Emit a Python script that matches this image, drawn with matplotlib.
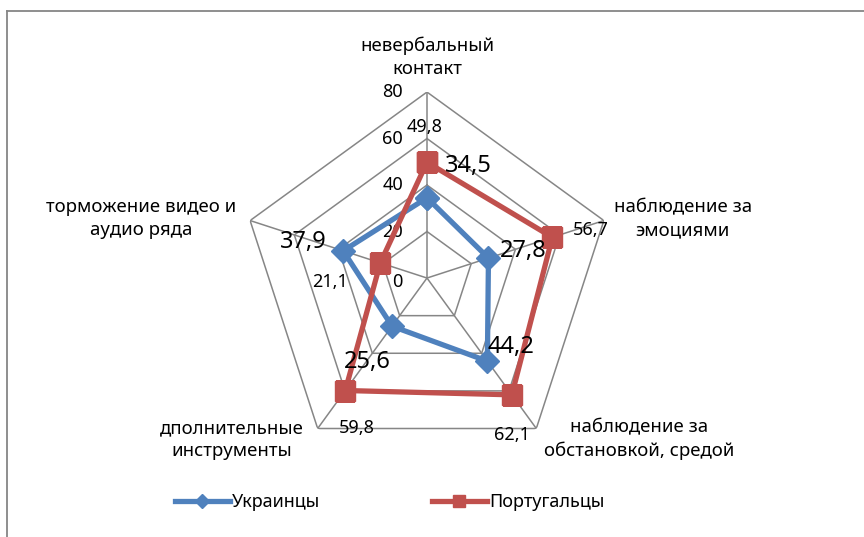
import numpy as np
import matplotlib
matplotlib.use("Agg")
import matplotlib.pyplot as plt
from matplotlib.lines import Line2D

plt.rcParams['font.family'] = ['Noto Sans', 'DejaVu Sans']

categories = ["невербальный\nконтакт", "наблюдение за\nэмоциями",
              "наблюдение за\nобстановкой, средой", "дполнительные\nинструменты",
              "торможение видео и\nаудио ряда"]
ukr = [34.5, 27.8, 44.2, 25.6, 37.9]
por = [49.8, 56.7, 62.1, 59.8, 21.1]
r_ticks = [0, 20, 40, 60, 80]
series_names = ["Украинцы", "Португальцы"]

BLUE = "#4F81BD"
RED = "#C0504D"
GRID = "#868686"

n = len(categories)
theta = np.arange(n) * 2 * np.pi / n
theta_c = np.append(theta, theta[0])

fig = plt.figure(figsize=(8.64, 5.37), dpi=100)
ax = fig.add_axes([0.2789, 0.1359, 0.4306, 0.6927], projection="polar")
ax.set_theta_offset(np.pi / 2)
ax.set_theta_direction(-1)
ax.set_ylim(0, r_ticks[-1])
ax.grid(False)
ax.set_xticks([])
ax.set_yticks([])
ax.spines['polar'].set_visible(False)
ax.patch.set_visible(False)

# pentagon grid + spokes
for r in r_ticks[1:]:
    ax.plot(theta_c, [r] * (n + 1), color=GRID, lw=1.1, zorder=1)
for t in theta:
    ax.plot([t, t], [0, r_ticks[-1]], color=GRID, lw=1.1, zorder=1)

for r in r_ticks:
    ax.annotate(str(r), (0, r), xytext=(-24, 0 if r else -4), textcoords="offset pixels",
                ha="right", va="center", fontsize=13)

# category labels
cat_off = [(0, 35), (79, 2), (103, -11), (-86, -11), (-109, 2)]
for t, lab, off in zip(theta, categories, cat_off):
    ax.annotate(lab, (t, r_ticks[-1]), xytext=off, textcoords="offset pixels",
                ha="center", va="center", fontsize=13.4, linespacing=1.35,
                annotation_clip=False)

l1, = ax.plot(theta_c, ukr + ukr[:1], color=BLUE, lw=3.8, marker="D", ms=12,
              label=series_names[0], zorder=3)
l2, = ax.plot(theta_c, por + por[:1], color=RED, lw=3.8, marker="s", ms=14,
              label=series_names[1], zorder=4)

def fmt(v):
    return ("%.1f" % v).replace(".", ",")

ukr_off = [(41, 32), (35, 7), (24, 14), (-25, -36), (-40, 9)]
por_off = [(-2, 35), (38, 7), (0, -40), (11, -37), (-50, -19)]
for t, v, off in zip(theta, ukr, ukr_off):
    ax.annotate(fmt(v), (t, v), xytext=off, textcoords="offset pixels",
                ha="center", va="center", fontsize=17, zorder=5)
for t, v, off in zip(theta, por, por_off):
    ax.annotate(fmt(v), (t, v), xytext=off, textcoords="offset pixels",
                ha="center", va="center", fontsize=13, zorder=5)

leg = fig.legend(handles=[l1, l2], loc="center", bbox_to_anchor=(390 / 864, 1 - 502 / 537),
                 ncol=2, frameon=False, fontsize=13, handlelength=3.0,
                 handletextpad=0.15, columnspacing=6.2, markerscale=0.6)

# chart frame (top and left edges visible)
fig.add_artist(Line2D([6.5 / 864, 6.5 / 864], [0, 1 - 11 / 537], color=GRID, lw=1.3))
fig.add_artist(Line2D([6.5 / 864, 1], [1 - 11 / 537, 1 - 11 / 537], color=GRID, lw=1.3))

fig.savefig("out.png", dpi=100)
